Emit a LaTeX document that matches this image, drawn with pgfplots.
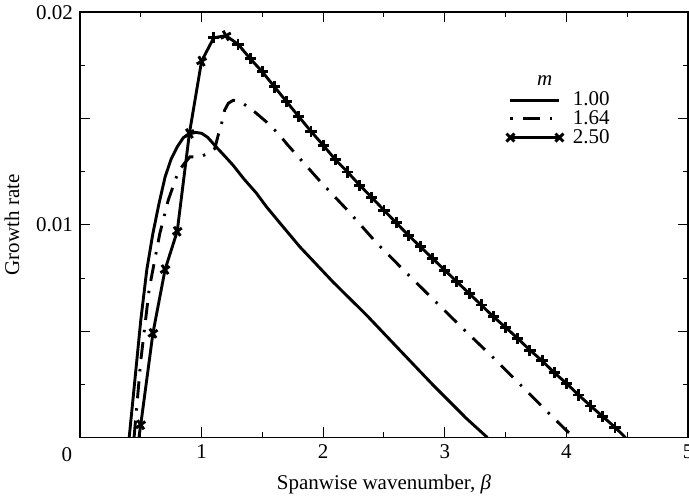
\documentclass[border=0pt]{standalone}
\usepackage{fontspec}
\setmainfont{Liberation Serif}
\usepackage{pgfplots}
\pgfplotsset{compat=1.18}
\begin{document}
\begin{tikzpicture}[font=\fontsize{10.5}{12.6}\selectfont]
\begin{axis}[
  name=ax, scale only axis, width=304.25pt, height=212.75pt,
  xmin=0, xmax=5, ymin=0, ymax=0.02,
  axis line style={line width=0.8pt},
  every tick/.style={black, line width=0.5pt},
  major tick length=5pt, minor tick length=2.5pt,
  tick align=inside,
  xtick={0,1,2,3,4,5}, xticklabels={,1,2,3,4,5}, minor x tick num=1,
  ytick={0,0.005,0.01,0.015,0.02}, yticklabels={,,0.01,,0.02}, minor y tick num=1,
  scaled y ticks=false,
  /pgf/number format/assume math mode=true,
  xlabel={Spanwise wavenumber, \textit{β}},
  ylabel={Growth rate},
  xlabel style={at={(axis description cs:0.5,-0.1093)}, anchor=center},
  ylabel style={at={(axis description cs:-0.1118,0.5)}, anchor=center},
  legend cell align=left,
  legend style={at={(axis cs:3.459,0.016475)}, anchor=north west, draw=none, fill=none,
    inner sep=0pt, row sep=-3.1pt, column sep=0pt},
  legend image code/.code={\path (-4pt,0pt) (28.5pt,0pt);
    \draw[#1] plot coordinates {(0pt,0pt) (24.5pt,0pt)};},
]
\addlegendimage{line width=1.45pt}
\addlegendentry{1.00}
\addlegendimage{line width=1.45pt, dash pattern=on 1.2pt off 5pt on 8.5pt off 5pt}
\addlegendentry{1.64}
\addlegendimage{line width=1.45pt, mark=x, mark size=2.8pt, mark options={solid}}
\addlegendentry{2.50}

% m = 1.00
\addplot[forget plot, line width=1.45pt] table {
0.405 0
0.45 0.0026
0.50 0.0055
0.55 0.0079
0.60 0.0096
0.65 0.0110
0.70 0.01225
0.75 0.0131
0.80 0.01367
0.85 0.0141
0.90 0.01428
0.95 0.01435
1.00 0.01431
1.05 0.01412
1.12 0.01367
1.20 0.01318
1.26 0.0128
1.35 0.01215
1.45 0.0115
1.534 0.01085
1.65 0.01005
1.808 0.00897
2.08 0.00732
2.356 0.00576
2.63 0.00411
2.903 0.00247
3.177 0.0009
3.35 0
};

% m = 1.64
\addplot[forget plot, line width=1.45pt, dash pattern=on 8.5pt off 5pt on 1.2pt off 5pt] table {
0.445 0
0.50 0.0036
0.57 0.0070
0.657 0.0096
0.726 0.01116
0.808 0.0125
0.86 0.0129
0.904 0.0132
0.986 0.0132
1.05 0.01335
1.109 0.01359
1.137 0.01422
1.165 0.01477
1.19 0.0154
1.22 0.01572
1.26 0.01586
1.30 0.01582
1.342 0.01571
1.438 0.01531
1.534 0.01484
1.63 0.0143
1.71 0.01375
1.972 0.01207
2.213 0.01061
2.438 0.00916
2.676 0.00779
2.917 0.00643
3.155 0.00509
3.396 0.00377
3.643 0.00236
3.884 0.00098
4.06 0
};

% m = 2.50 line
\addplot[forget plot, line width=1.45pt] table {
0.485 0
0.5 0.0006
0.6 0.0049
0.7 0.0079
0.8 0.0097
0.9 0.0143
1.0 0.0177
1.1 0.0188
1.2 0.0189
1.3 0.0185
1.4 0.01782
1.5 0.0172
1.6 0.01649
1.7 0.01579
1.8 0.01509
1.9 0.01440
2.0 0.01375
2.1 0.01307
2.2 0.01249
2.3 0.01187
2.4 0.01129
2.5 0.01069
2.6 0.0101
2.7 0.00952
2.8 0.00897
2.9 0.00842
3.0 0.00787
3.1 0.00732
3.2 0.00678
3.3 0.00623
3.4 0.00568
3.5 0.00518
3.6 0.00466
3.7 0.00411
3.8 0.00361
3.9 0.00305
4.0 0.00255
4.1 0.00200
4.2 0.00148
4.3 0.00098
4.4 0.00048
4.485 0
};

% m = 2.50 markers
\addplot[forget plot, only marks, mark=x, mark size=2.8pt, mark options={line width=1.45pt, rotate=-10}] table {
0.5 0.0006
0.6 0.0049
0.7 0.0079
0.8 0.0097
0.9 0.0143
};
\addplot[forget plot, only marks, mark=x, mark size=2.8pt, mark options={line width=1.45pt, rotate=-15}] table {
1.0 0.0177
};
\addplot[forget plot, only marks, mark=x, mark size=2.8pt, mark options={line width=1.45pt, rotate=45}] table {
1.1 0.0188
};
\addplot[forget plot, only marks, mark=x, mark size=2.8pt, mark options={line width=1.45pt, rotate=-16}] table {
1.2 0.0189
};
\addplot[forget plot, only marks, mark=x, mark size=2.8pt, mark options={line width=1.45pt, rotate=-45}] table {
1.3 0.0185
1.4 0.01782
1.5 0.0172
1.6 0.01649
1.7 0.01579
1.8 0.01509
1.9 0.01440
2.0 0.01375
2.1 0.01307
2.2 0.01249
2.3 0.01187
2.4 0.01129
2.5 0.01069
2.6 0.0101
2.7 0.00952
2.8 0.00897
2.9 0.00842
3.0 0.00787
3.1 0.00732
3.2 0.00678
3.3 0.00623
3.4 0.00568
3.5 0.00518
3.6 0.00466
3.7 0.00411
3.8 0.00361
3.9 0.00305
4.0 0.00255
4.1 0.00200
4.2 0.00148
4.3 0.00098
4.4 0.00048
};
\end{axis}
\node at ([xshift=-6.5pt,yshift=-8.75pt]ax.south west) {0};
\node at ([xshift=232.5pt,yshift=-34pt]ax.north west) {\textit{m}};
\pgfresetboundingbox
\path ([xshift=-40pt,yshift=-30.25pt]ax.south west) rectangle ([xshift=0.5pt,yshift=6.15pt]ax.north east);
\end{tikzpicture}
\end{document}
